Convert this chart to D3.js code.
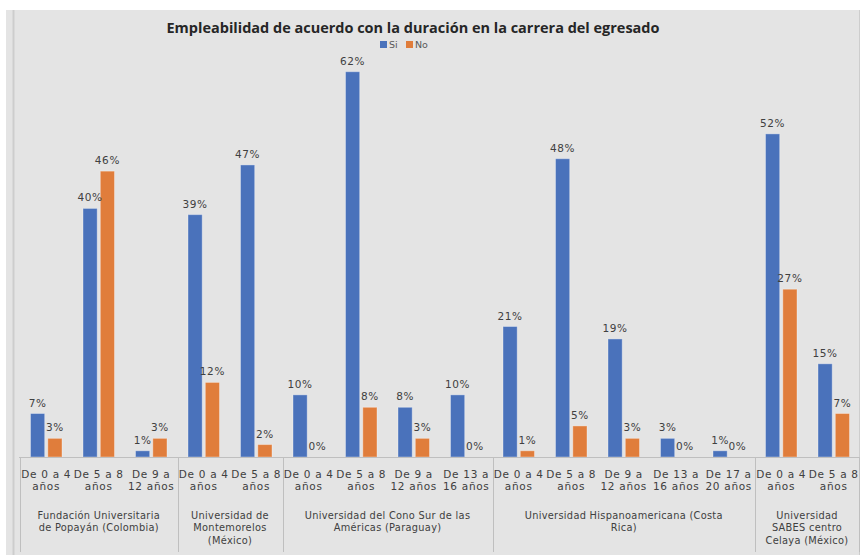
<!DOCTYPE html>
<html>
<head>
<meta charset="utf-8">
<script src="https://cdn.jsdelivr.net/npm/d3@7"></script>
<style>
  html, body { margin: 0; padding: 0; background: #fff; }
  svg { display: block; }
</style>
</head>
<body>
<svg id="chart"></svg>
<script>
// empleabilidad por duracion de la carrera, barras agrupadas Si / No

var width = 860,
    height = 555;

// datos
var series = ["Si", "No"];
var groupNames = [
  ["Fundación Universitaria", "de Popayán (Colombia)"],
  ["Universidad de", "Montemorelos", "(México)"],
  ["Universidad del Cono Sur de las", "Américas (Paraguay)"],
  ["Universidad Hispanoamericana (Costa", "Rica)"],
  ["Universidad", "SABES centro", "Celaya (México)"]
];
var groupSizes = [3, 2, 4, 5, 2];
var catLabels = [
  ["De 0 a 4", "años"], ["De 5 a 8", "años"], ["De 9 a", "12 años"],
  ["De 0 a 4", "años"], ["De 5 a 8", "años"],
  ["De 0 a 4", "años"], ["De 5 a 8", "años"], ["De 9 a", "12 años"], ["De 13 a", "16 años"],
  ["De 0 a 4", "años"], ["De 5 a 8", "años"], ["De 9 a", "12 años"], ["De 13 a", "16 años"], ["De 17 a", "20 años"],
  ["De 0 a 4", "años"], ["De 5 a 8", "años"]
];
var siValues = [7, 40, 1, 39, 47, 10, 62, 8, 10, 21, 48, 19, 3, 1, 52, 15];
var noValues = [3, 46, 3, 12, 2, 0, 8, 3, 0, 1, 5, 3, 0, 0, 27, 7];

var colors = { Si: "#4a72bb", No: "#e07d3b" };
var textCol = "#404040";

var svg = d3.select('#chart')
            .attr('width', width)
            .attr('height', height);

// fondo
svg.append("rect")
  .attr("x", 6).attr("y", 10)
  .attr("width", width - 6).attr("height", height - 10)
  .attr("fill", "#e4e4e4");
svg.append("line")
  .attr("x1", 13.5).attr("x2", 13.5).attr("y1", 10).attr("y2", height)
  .attr("stroke", "#cdcdcd").attr("stroke-width", 2);
svg.append("line")
  .attr("x1", 859.5).attr("x2", 859.5).attr("y1", 10).attr("y2", height)
  .attr("stroke", "#cdcdcd").attr("stroke-width", 1);

var idx = d3.range(siValues.length);
var rows = idx.map(function(i) {
  return { i: i, Si: siValues[i], No: noValues[i] };
});

// escalas
var x0 = d3.scaleBand()
  .domain(idx)
  .range([20, 860])
  .paddingInner(0.4)
  .paddingOuter(0.2);

var x1 = d3.scaleBand()
  .domain(series)
  .range([0, x0.bandwidth()])
  .paddingInner(0.18);

var y = d3.scaleLinear()
  .domain([0, 70])
  .range([457, 22]);

var step = x0.step();
function boundary(i) { return x0(i) + x0.bandwidth() / 2 - step / 2; }

// titulo
svg.append("text")
  .attr("x", 413)
  .attr("y", 33)
  .attr("text-anchor", "middle")
  .attr("textLength", 493)
  .attr("lengthAdjust", "spacingAndGlyphs")
  .style("font-family", "'Open Sans', sans-serif")
  .style("font-weight", "700")
  .style("font-size", "14px")
  .style("fill", "#262626")
  .text("Empleabilidad de acuerdo con la duración en la carrera del egresado");

// leyenda
var legendX = [380, 406];
var legend = svg.selectAll(".legend")
  .data(series)
  .enter().append("g")
  .attr("class", "legend")
  .attr("transform", function(d, k) { return "translate(" + legendX[k] + ",41)"; });
legend.append("rect")
  .attr("width", 7).attr("height", 7)
  .attr("fill", function(d) { return colors[d]; });
legend.append("text")
  .attr("x", 9).attr("y", 7)
  .style("font-family", "'DejaVu Sans', sans-serif")
  .style("font-size", "9.5px")
  .style("fill", "#595959")
  .text(function(d) { return d; });

// barras
var cat = svg.selectAll(".cat")
  .data(rows)
  .enter().append("g")
  .attr("class", "cat")
  .attr("transform", function(d) { return "translate(" + x0(d.i) + ",0)"; });

cat.selectAll("rect")
  .data(function(d) { return series.map(function(s) { return { s: s, v: d[s] }; }); })
  .enter().append("rect")
  .attr("x", function(d) { return x1(d.s); })
  .attr("y", function(d) { return y(d.v); })
  .attr("width", x1.bandwidth())
  .attr("height", function(d) { return y(0) - y(d.v); })
  .attr("fill", function(d) { return colors[d.s]; })
  .attr("stroke", "rgba(255,255,255,0.35)")
  .attr("stroke-width", 1);

cat.selectAll(".lbl")
  .data(function(d) { return series.map(function(s) { return { s: s, v: d[s] }; }); })
  .enter().append("text")
  .attr("class", "lbl")
  .attr("x", function(d) { return x1(d.s) + x1.bandwidth() / 2; })
  .attr("y", function(d) { return y(d.v) - 7; })
  .attr("text-anchor", "middle")
  .style("font-family", "'DejaVu Sans', sans-serif")
  .style("font-size", "10.5px")
  .style("letter-spacing", "0.6px")
  .style("fill", textCol)
  .text(function(d) { return d.v + "%"; });

// eje x
svg.append("line")
  .attr("x1", 19).attr("x2", 860)
  .attr("y1", y(0) + 0.5).attr("y2", y(0) + 0.5)
  .attr("stroke", "#bfbfbf");

var starts = [];
var acc = 0;
groupSizes.forEach(function(n) { starts.push(acc); acc += n; });
var seps = starts.concat([acc]);

svg.selectAll(".sep")
  .data(seps)
  .enter().append("line")
  .attr("class", "sep")
  .attr("x1", function(d) { return Math.round(d === acc ? 859 : boundary(d)) + 0.5; })
  .attr("x2", function(d) { return Math.round(d === acc ? 859 : boundary(d)) + 0.5; })
  .attr("y1", y(0)).attr("y2", 552)
  .attr("stroke", "#bfbfbf");

// etiquetas de categoria
var catText = svg.selectAll(".catlbl")
  .data(catLabels)
  .enter().append("text")
  .attr("class", "catlbl")
  .attr("text-anchor", "middle")
  .style("font-family", "'DejaVu Sans', sans-serif")
  .style("font-size", "10.5px")
  .style("letter-spacing", "0.7px")
  .style("fill", textCol);
catText.selectAll("tspan")
  .data(function(d, i) { return d.map(function(t) { return { t: t, i: i }; }); })
  .enter().append("tspan")
  .attr("x", function(d) { return x0(d.i) + x0.bandwidth() / 2; })
  .attr("y", function(d, k) { return 478 + k * 12; })
  .text(function(d) { return d.t; });

// etiquetas de grupo
var grpText = svg.selectAll(".grplbl")
  .data(groupNames)
  .enter().append("text")
  .attr("class", "grplbl")
  .attr("text-anchor", "middle")
  .style("font-family", "'DejaVu Sans', sans-serif")
  .style("font-size", "9.8px")
  .style("letter-spacing", "0.3px")
  .style("fill", textCol);
grpText.selectAll("tspan")
  .data(function(d, g) {
    var a = boundary(seps[g]), b = g === groupNames.length - 1 ? 859 : boundary(seps[g + 1]);
    return d.map(function(t) { return { t: t, cx: (a + b) / 2 }; });
  })
  .enter().append("tspan")
  .attr("x", function(d) { return d.cx; })
  .attr("y", function(d, k) { return 519 + k * 12.3; })
  .text(function(d) { return d.t; });
</script>
</body>
</html>
